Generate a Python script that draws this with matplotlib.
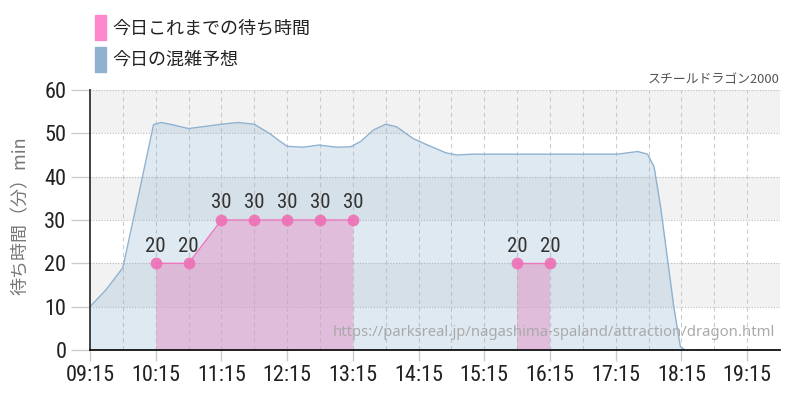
import numpy as np
import matplotlib
matplotlib.use("Agg")
import matplotlib.pyplot as plt
from matplotlib.patches import Rectangle

plt.rcParams['font.family'] = ['Noto Sans CJK JP', 'DejaVu Sans']

# forecast (blue)
fc_times = ["09:15", "09:30", "09:45", "10:00", "10:13", "10:20", "10:30", "10:45",
            "11:00", "11:15", "11:30", "11:45", "12:00", "12:05", "12:15", "12:30",
            "12:44", "13:00", "13:13", "13:22", "13:34", "13:45", "13:55", "14:10",
            "14:25", "14:40", "14:50", "15:05", "17:17", "17:35", "17:44", "17:50",
            "17:56", "18:02", "18:08", "18:14", "18:20", "18:35", "19:45"]
fc_vals = [10, 14, 19, 36.5, 52, 52.5, 52, 51.1,
           51.6, 52.1, 52.5, 52.1, 49.8, 48.8, 47, 46.8,
           47.3, 46.8, 46.9, 48.1, 50.8, 52.1, 51.5, 48.8,
           47.1, 45.5, 45, 45.2, 45.2, 45.8, 45.2, 42.3,
           33, 21.5, 10, 0.8, -0.4, 0, 0]

# actual wait times (pink)
wt_times = ["10:15", "10:45", "11:15", "11:45", "12:15", "12:45", "13:15", "15:45", "16:15"]
wt_vals = [20, 20, 30, 30, 30, 30, 30, 20, 20]

tick_labels = ["09:15", "10:15", "11:15", "12:15", "13:15", "14:15", "15:15",
               "16:15", "17:15", "18:15", "19:15"]

narrow = ['Roboto Condensed', 'Liberation Sans Narrow', 'DejaVu Sans']


def hrs(t):
    h, m = t.split(":")
    return int(h) + int(m) / 60


fx = np.array([hrs(t) for t in fc_times])
fy = np.array(fc_vals)
wx = np.array([hrs(t) for t in wt_times])
wy = np.array(wt_vals)

blue = '#8fb2d0'
pink = '#ff88cc'

fig = plt.figure(figsize=(8, 4), dpi=100)
ax = fig.add_axes([0.1125, 0.125, 0.8625, 0.65])
x0, x1 = hrs("09:15"), hrs("19:45")
ax.set_xlim(x0, x1)
ax.set_ylim(0, 60)

for lo in (10, 30, 50):
    ax.axhspan(lo, lo + 10, color='#f2f2f2', zorder=0, lw=0)
for y in range(10, 61, 10):
    ax.axhline(y, color='#bbbbbb', lw=0.8, ls=(0, (1, 1.5)), zorder=1)
for v in np.arange(x0 + 0.5, x1 + 0.01, 0.5):
    ax.axvline(v, color='#cccccc', lw=0.8, ls=(0, (4, 3)), zorder=1)

ax.fill_between(fx, fy, 0, color=blue, alpha=0.28, lw=0, zorder=2)
ax.plot(fx, fy, color=blue, lw=1, zorder=3)

# split pink series where there are gaps
breaks = np.where(np.diff(wx) > 0.51)[0] + 1
for sx, sy in zip(np.split(wx, breaks), np.split(wy, breaks)):
    ax.fill_between(sx, sy, 0, color='#e293c7', alpha=0.5, lw=0, zorder=4)
    ax.plot(sx, sy, color='#ee77bb', lw=1, zorder=5)
ax.scatter(wx, wy, s=72, color='#ee6fb5', alpha=0.9, lw=0, zorder=6)
for x, y in zip(wx, wy):
    ax.text(x, y + 2.7, str(y), ha='center', va='baseline', fontsize=15,
            color='#333333', family=narrow, stretch='condensed', zorder=7)

ax.set_yticks(range(0, 61, 10))
ax.set_xticks([hrs(t) for t in tick_labels])
ax.set_xticklabels(tick_labels)
ax.tick_params(axis='both', colors='#cccccc', labelcolor='#222222', labelsize=16, width=1)
ax.tick_params(axis='y', length=14, pad=3)
ax.tick_params(axis='x', length=8, pad=3)
for lab in ax.get_xticklabels() + ax.get_yticklabels():
    lab.set_family(narrow)
    lab.set_stretch('condensed')

for s in ('top', 'right'):
    ax.spines[s].set_visible(False)
ax.spines['left'].set_color('#333333')
ax.spines['left'].set_linewidth(1.3)
ax.spines['bottom'].set_color('#111111')
ax.spines['bottom'].set_linewidth(1.3)
ax.spines['left'].set_zorder(8)
ax.spines['bottom'].set_zorder(8)

ax.set_ylabel('待ち時間（分）min', fontsize=13, color='#777777')
ax.yaxis.set_label_coords(-0.087, 0.517)

ax.text(0.993, 0.04, 'https://parksreal.jp/nagashima-spaland/attraction/dragon.html',
        transform=ax.transAxes, ha='right', va='bottom', fontsize=10.7,
        color='#aaaaaa', family=['Noto Sans', 'DejaVu Sans'], zorder=9)

fig.text(780 / 800, 1 - 80 / 400, 'スチールドラゴン2000', ha='right', va='center',
         fontsize=9.3, color='#555555')

# legend
fig.patches.append(Rectangle((95 / 800, 1 - 40 / 400), 11 / 800, 25 / 400,
                             transform=fig.transFigure, color=pink))
fig.patches.append(Rectangle((95 / 800, 1 - 72 / 400), 11 / 800, 25 / 400,
                             transform=fig.transFigure, color=blue))
fig.text(112 / 800, 1 - 28 / 400, '今日これまでの待ち時間', va='center', fontsize=13, color='#222222')
fig.text(112 / 800, 1 - 60 / 400, '今日の混雑予想', va='center', fontsize=13, color='#222222')

fig.savefig('out.png', dpi=100)
